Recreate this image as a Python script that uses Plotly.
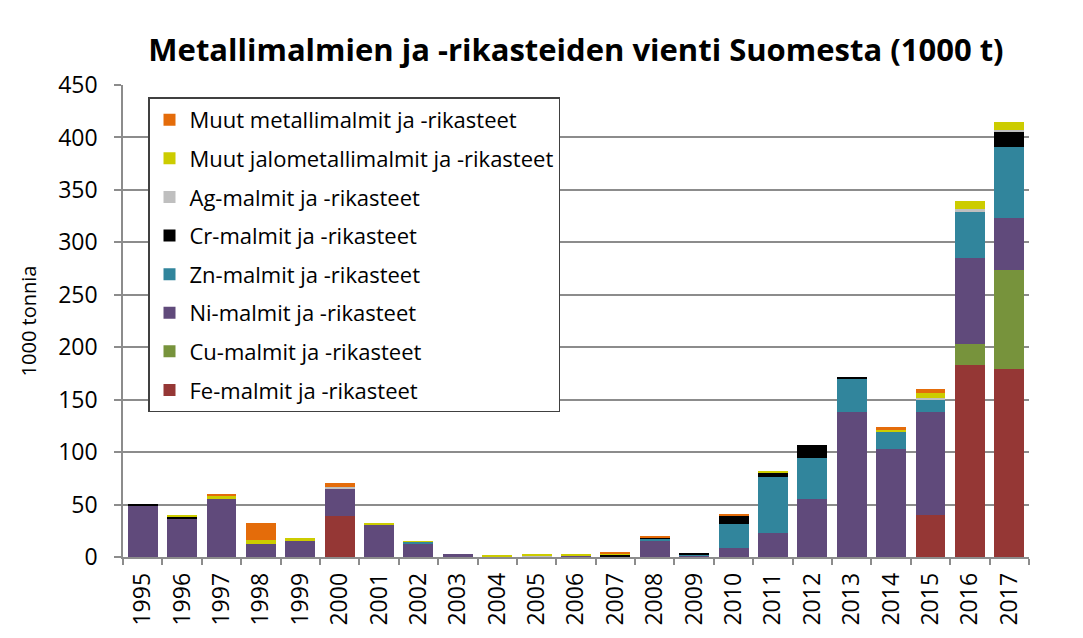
import plotly.graph_objects as go

years = [str(y) for y in range(1995, 2018)]

fe   = [0, 0, 0, 0, 0, 39, 0, 0, 0, 0, 0, 0, 0, 0, 0, 0, 0, 0, 0, 0, 40, 183, 179]
cu   = [0, 0, 0, 0, 0, 0, 0, 0, 0, 0, 0, 0, 0, 0, 0, 0, 0, 0, 0, 0, 0, 20, 95]
ni   = [49, 37, 55, 12, 15.5, 26.5, 31, 12.5, 2.5, 0, 0, 1, 0, 15, 1, 8.5, 23, 55, 138.5, 103, 98, 82.5, 49.5]
zn   = [0, 0, 0, 0, 0, 0, 0, 2, 0, 0, 0, 0, 0, 2, 1.5, 22.5, 53, 39, 31, 16.5, 12, 43.5, 67]
cr   = [1, 1.5, 0, 0, 0, 0, 0, 0, 0, 0, 0, 0, 2, 2, 1, 8.3, 5, 13, 2, 0, 0, 0, 15]
ag   = [0, 0, 0, 0, 0, 1, 0, 0, 0, 0, 1, 0, 0, 0, 0, 0, 0, 0, 0, 0, 2, 2.5, 2]
jalo = [0, 1, 3, 4, 2.5, 0, 0.5, 0.7, 0, 2, 1, 1.5, 1.5, 0, 0, 0, 1, 0, 0, 2, 4, 8, 7.5]
muut = [0, 0, 2.5, 16.5, 0, 4, 0, 0, 0, 0, 0, 0, 1, 1, 0, 1, 0, 0, 0, 2.3, 4.5, 0, 0]

series = [
    ("Fe-malmit ja -rikasteet", fe, "#953735"),
    ("Cu-malmit ja -rikasteet", cu, "#77933C"),
    ("Ni-malmit ja -rikasteet", ni, "#604A7B"),
    ("Zn-malmit ja -rikasteet", zn, "#31859C"),
    ("Cr-malmit ja -rikasteet", cr, "#000000"),
    ("Ag-malmit ja -rikasteet", ag, "#BFBFBF"),
    ("Muut jalometallimalmit ja -rikasteet", jalo, "#CCCC00"),
    ("Muut metallimalmit ja -rikasteet", muut, "#E46C0A"),
]

FONT = "Open Sans"
W, H = 1075, 630  # page body has an 8px margin

fig = go.Figure()
n = len(series)
for i, (name, vals, col) in enumerate(series):
    fig.add_trace(go.Bar(
        x=years, y=vals, name=name, legendgroup=f"g{i}", legendrank=n - i,
        marker=dict(color=col, line=dict(width=0)),
    ))

fig.update_layout(
    barmode="stack",
    bargap=0.24,
    width=W, height=H,
    margin=dict(l=115, r=54, t=77, b=79),
    paper_bgcolor="white", plot_bgcolor="white",
    font=dict(family=FONT, color="black"),
    title=dict(
        text="<b>Metallimalmien ja -rikasteiden vienti Suomesta (1000 t)</b>",
        x=0.5, xref="paper", xanchor="center",
        y=1 - 42 / H, yref="container", yanchor="middle",
        font=dict(family=FONT, size=31, color="black"),
    ),
    legend=dict(
        x=0.0276, y=0.9736, xanchor="left", yanchor="top",
        bgcolor="white", bordercolor="#404040", borderwidth=1.5,
        traceorder="grouped", tracegroupgap=7,
        font=dict(family=FONT, size=22, color="black"),
    ),
    showlegend=True,
)

fig.update_yaxes(
    range=[0, 450], dtick=50,
    showgrid=True, gridcolor="#8C8C8C", gridwidth=1.5,
    showline=True, linecolor="#8C8C8C", linewidth=1.5,
    ticks="outside", ticklen=7, tickcolor="#8C8C8C", tickwidth=1.5,
    ticklabelstandoff=12,
    tickfont=dict(family=FONT, size=23, color="black"),
    title=dict(text="1000 tonnia", font=dict(family=FONT, size=20, color="black"), standoff=16),
    zeroline=False,
)
fig.update_xaxes(
    type="category",
    showline=True, linecolor="#8C8C8C", linewidth=1.5,
    ticks="outside", ticklen=6, tickcolor="#8C8C8C", tickwidth=1.5,
    tickson="boundaries",
    tickangle=-90,
    ticklabelstandoff=5,
    tickfont=dict(family=FONT, size=23, color="black"),
    showgrid=False,
)

fig.write_html("out.html")
